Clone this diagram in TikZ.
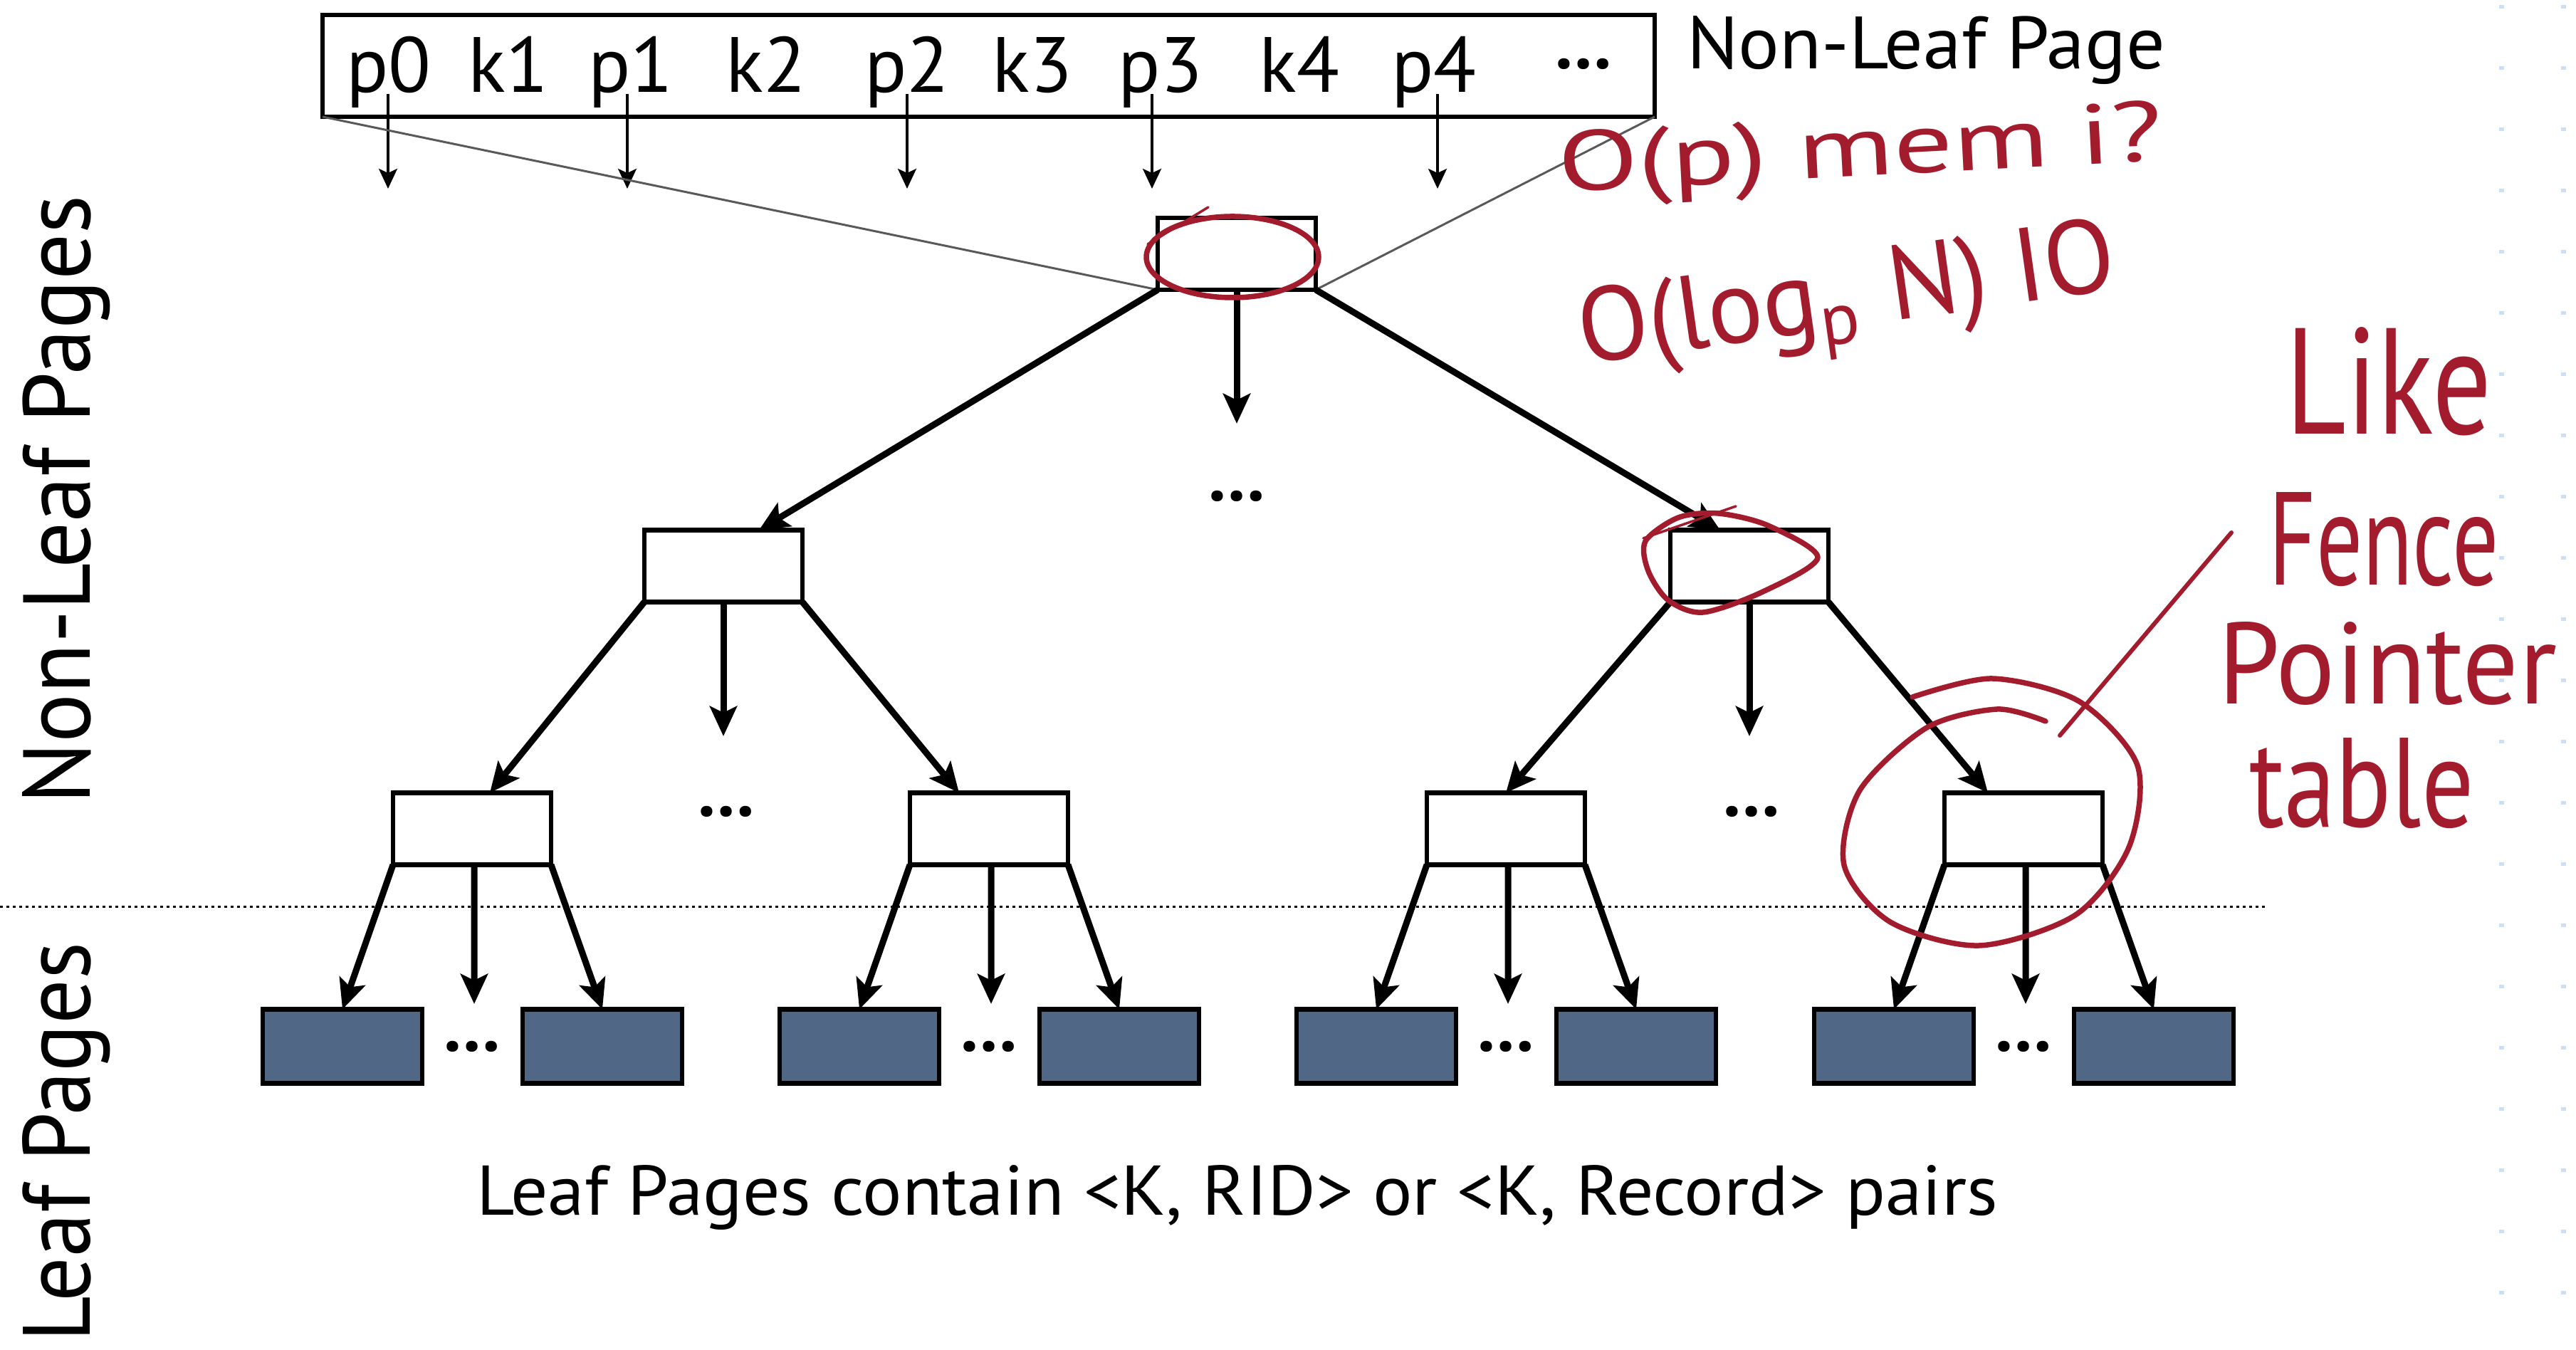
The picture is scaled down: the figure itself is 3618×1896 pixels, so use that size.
\documentclass[tikz,border=0pt]{standalone}
\usepackage{fontspec}
\setmainfont{PT Sans}
\usetikzlibrary{arrows.meta}
\definecolor{leafc}{RGB}{81,103,134}
\definecolor{hand}{RGB}{163,28,46}
\definecolor{gridc}{RGB}{200,224,250}
\begin{document}
\begin{tikzpicture}[x=0.1pt,y=-0.1pt,
  box/.style={draw=black,line width=0.65pt,fill=white,minimum width=22.2pt,minimum height=10.1pt,inner sep=0pt,outer sep=0pt},
  leafbox/.style={draw=black,line width=0.65pt,fill=leafc,minimum width=22.4pt,minimum height=10.4pt,inner sep=0pt,outer sep=0pt},
  tree/.style={line width=0.9pt,-{Stealth[length=4.2pt,width=3.8pt,inset=0.9pt]}},
  ptr/.style={line width=0.33pt,-{Stealth[length=2.8pt,width=2.6pt,inset=0.6pt]}},
  zoomline/.style={line width=0.3pt,draw=black!65},
  lbl/.style={font=\fontsize{11pt}{11pt}\selectfont,inner sep=0pt},
  dotsl/.style={font=\fontsize{10pt}{10pt}\selectfont\bfseries,inner sep=0pt},
  hw/.style={draw=hand,line width=0.75pt,line cap=round,line join=round},
  hwtext/.style={text=hand,inner sep=0pt},
]
\useasboundingbox (0,0) rectangle (3618,1896);

% background grid dots at right edge
\foreach \yy in {7,93,...,1896} {
  \fill[gridc] (3510,\yy) rectangle (3517,\yy+5);
  \fill[gridc] (3597,\yy) rectangle (3604,\yy+5);
}

% separator
\coordinate (sepL) at (0,1274);
\coordinate (sepR) at (3184,1274);
\draw[line width=0.3pt,dash pattern=on 0.45pt off 0.45pt] (sepL) -- (sepR);

% side labels
\node[rotate=90,anchor=base west,inner sep=0pt] (nlp) at (127,1132) {\resizebox{85.6pt}{9.5pt}{Non-Leaf Pages}};
\node[rotate=90,anchor=base west,inner sep=0pt] (lp) at (127,1887) {\resizebox{56.1pt}{9.5pt}{Leaf Pages}};

% top page
\node[draw=black,line width=0.6pt,fill=white,minimum width=187.1pt,minimum height=14.3pt,inner sep=0pt,outer sep=0pt] (page) at (1388.5,92.5) {};
\foreach \t/\x [count=\i] in {p0/546,k1/714,p1/886,k2/1076,p2/1274,k3/1450,p3/1630,k4/1825,p4/2014}
  \node[lbl,anchor=base] (t\i) at (\x,130) {\t};
\node[dotsl] (tdots) at (2224,90) {…};
\node[anchor=base west,inner sep=0pt] (nlpage) at (2367,97) {\resizebox{67.2pt}{7.4pt}{Non-Leaf Page}};

\foreach \x [count=\i] in {545,881,1274,1618,2019} {
  \coordinate (ps\i) at (\x,132);
  \coordinate (pe\i) at (\x,265);
  \draw[ptr] (ps\i) -- (pe\i);
}

% tree nodes
\node[box] (root) at (1737,356.5) {};
\node[box] (ml) at (1016,795) {};
\node[box] (mr) at (2457,795) {};
\node[box] (l1) at (663,1164) {};
\node[box] (l2) at (1389,1164) {};
\node[box] (l3) at (2115,1164) {};
\node[box] (l4) at (2842,1164) {};

% zoom lines
\draw[zoomline] (page.south west) -- (root.south west);
\draw[zoomline] (page.south east) -- (root.south east);
\node[box] at (root) {};

\foreach \c/\n in {663/1,1389/2,2115/3,2842/4} {
  \node[leafbox] (a\n) at (\c-182,1469.5) {};
  \node[leafbox] (b\n) at (\c+183,1469.5) {};
  \node[dotsl] (ld\n) at (\c,1470) {…};
  \coordinate (lm\n) at (\c+3,1410);
  \draw[tree] (l\n.south west) -- (a\n.north);
  \draw[tree] ([xshift=0.3pt]l\n.south) -- (lm\n);
  \draw[tree] (l\n.south east) -- (b\n.north);
}

% dots in tree
\node[dotsl] (d0) at (1737,697) {…};
\node[dotsl] (d1) at (1020,1140) {…};
\node[dotsl] (d2) at (2460,1140) {…};

\coordinate (re) at (1737,595);
\coordinate (mle) at (1016,1034);
\coordinate (mre) at (2457,1034);
\draw[tree] (root.south west) -- ([xshift=5pt]ml.north);
\draw[tree] (root.south) -- (re);
\draw[tree] (root.south east) -- ([xshift=-4.1pt]mr.north);
\draw[tree] (ml.south west) -- ([xshift=2.5pt]l1.north);
\draw[tree] (ml.south) -- (mle);
\draw[tree] (ml.south east) -- ([xshift=-4.2pt]l2.north);
\draw[tree] (mr.south west) -- (l3.north);
\draw[tree] (mr.south) -- (mre);
\draw[tree] (mr.south east) -- ([xshift=-5pt]l4.north);

% caption
\node[anchor=base,inner sep=0pt] (cap) at (1738,1707) {\resizebox{213.7pt}{7.0pt}{Leaf Pages contain <K, RID> or <K, Record> pairs}};

% handwritten annotations
\draw[hw] (1731,361) ellipse [x radius=12.1pt, y radius=5.7pt];
\draw[hw,line width=0.35pt] (1612,343) -- (1697,291);
\draw[hw] plot[smooth cycle] coordinates {(2357,727) (2413,721) (2483,738) (2553,783) (2476,831) (2392,860) (2343,843) (2315,802) (2311,760)};
\draw[hw,line width=0.35pt] (2308,756) -- (2438,711);
\draw[hw] plot[smooth] coordinates {(2686,979) (2798,953) (2920,985) (3002,1075) (2990,1190) (2915,1285) (2780,1328) (2655,1295) (2590,1215) (2612,1110) (2706,1022) (2805,996) (2873,1013)};
\coordinate (pl1) at (2893,1033);
\coordinate (pl2) at (3134,748);
\draw[hw,line width=0.6pt] (pl1) -- (pl2);

\node[hwtext,rotate=3] (hw1) at (2613,218) {\resizebox{85pt}{8.5pt}{O(p) mem i?}};
\node[hwtext,rotate=8] (hw2) at (2595,428) {\resizebox{76pt}{10.5pt}{O(log\textsubscript{p} N) IO}};
\node[hwtext] (hw3) at (3355,536) {\resizebox{28.9pt}{15pt}{Like}};
\node[hwtext] (hw4) at (3348,758) {\resizebox{32.3pt}{13pt}{Fence}};
\node[hwtext] (hw5) at (3353,932) {\resizebox{47.6pt}{11.5pt}{Pointer}};
\node[hwtext] (hw6) at (3317,1100) {\resizebox{31.6pt}{12.5pt}{table}};
\end{tikzpicture}
\end{document}
